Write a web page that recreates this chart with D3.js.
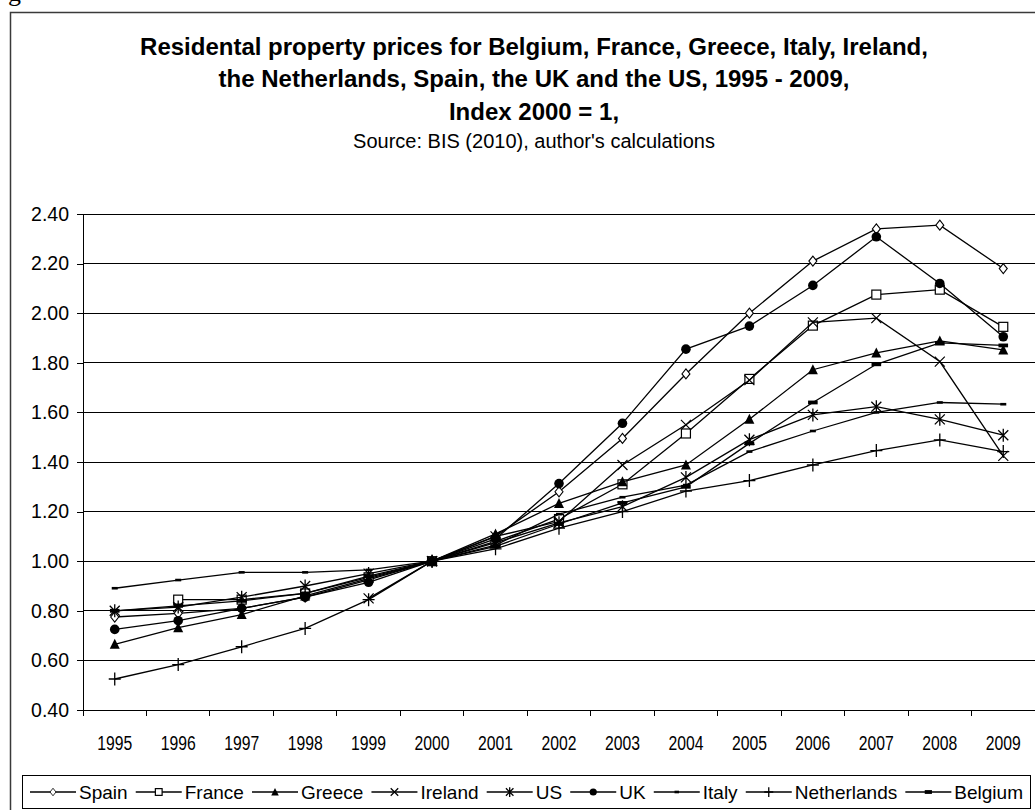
<!DOCTYPE html>
<html>
<head>
<meta charset="utf-8">
<title>Residental property prices</title>
<script src="https://cdn.jsdelivr.net/npm/d3@7/dist/d3.min.js" charset="utf-8"></script>
<style type="text/css">
	body { margin: 0; background: #fff; }
	svg { display: block; font-family: "Liberation Sans", Arial, sans-serif; }
	.grid line { stroke: #000; stroke-width: 1px; shape-rendering: crispEdges; }
	.axis path, .axis line { stroke: #000; shape-rendering: crispEdges; }
	.series { fill: none; stroke: #000; stroke-width: 1.3px; }
</style>
</head>
<body>
<script type="text/javascript">

var width = 1035,
    height = 810;

// data (index 2000 = 1)
var years = ["1995","1996","1997","1998","1999","2000","2001","2002","2003","2004","2005","2006","2007","2008","2009"];
var names = ["Spain","France","Greece","Ireland","US","UK","Italy","Netherlands","Belgium"];
var spain       = [0.775, 0.79, 0.81, 0.855, 0.925, 1.00, 1.10, 1.28, 1.495, 1.755, 2.00, 2.21, 2.34, 2.355, 2.18];
var france      = [null, 0.845, 0.845, 0.87, 0.935, 1.00, 1.08, 1.17, 1.31, 1.515, 1.735, 1.95, 2.075, 2.095, 1.945];
var greece      = [0.665, 0.732, 0.785, 0.86, 0.93, 1.00, 1.11, 1.233, 1.32, 1.388, 1.572, 1.772, 1.84, 1.888, 1.852];
var ireland     = [null, null, null, null, 0.85, 1.00, 1.10, 1.16, 1.388, 1.55, 1.73, 1.963, 1.98, 1.805, 1.425];
var us          = [0.80, 0.815, 0.855, 0.90, 0.95, 1.00, 1.075, 1.155, 1.22, 1.338, 1.49, 1.59, 1.623, 1.572, 1.508];
var uk          = [0.725, 0.76, 0.81, 0.855, 0.915, 1.00, 1.09, 1.313, 1.556, 1.855, 1.948, 2.112, 2.308, 2.12, 1.905];
var italy       = [0.891, 0.924, 0.955, 0.955, 0.965, 1.00, 1.065, 1.19, 1.258, 1.307, 1.442, 1.525, 1.60, 1.64, 1.633];
var netherlands = [0.525, 0.583, 0.655, 0.729, 0.845, 1.00, 1.05, 1.133, 1.20, 1.283, 1.325, 1.388, 1.446, 1.489, 1.442];
var belgium     = [0.80, 0.82, 0.84, 0.87, 0.94, 1.00, 1.06, 1.15, 1.235, 1.30, 1.475, 1.64, 1.794, 1.88, 1.87];
var markers = ["diamond","square","triangle","x","star","circle","dashSmall","plus","dashBig"];
var yTicks = [0.4, 0.6, 0.8, 1.0, 1.2, 1.4, 1.6, 1.8, 2.0, 2.2, 2.4];

var allValues = [spain, france, greece, ireland, us, uk, italy, netherlands, belgium];
var series = names.map(function(n, i) {
	return { name: n, marker: markers[i], values: allValues[i] };
});

var titleLines = [
	"Residental property prices for Belgium, France, Greece, Italy, Ireland,",
	"the Netherlands, Spain, the UK and the US, 1995 - 2009,",
	"Index 2000 = 1,"
];
var subtitle = "Source: BIS (2010), author's calculations";

var svg = d3.select("body").append("svg").attr("width", width).attr("height", height);

// bit of the caption above the frame, cut off by the page edge
svg.append("text").attr("x", 8).attr("y", 1)
	.style("font-family", "'Liberation Serif', 'Times New Roman', serif")
	.style("font-size", "26px").text("g");

// outer chart frame (runs past the right and bottom edge)
svg.append("rect").attr("x", 10.5).attr("y", 12.5).attr("width", 1100).attr("height", 900)
	.attr("fill", "none").attr("stroke", "#3a3a3a").attr("stroke-width", 1.5);

svg.selectAll("text.title").data(titleLines).enter()
	.append("text").attr("class", "title")
	.attr("x", 534).attr("y", function(d, i) { return 55 + i * 32.3; })
	.attr("text-anchor", "middle")
	.style("font-weight", "bold").style("font-size", "24px")
	.text(function(d) { return d; });
svg.append("text").attr("x", 534).attr("y", 148).attr("text-anchor", "middle")
	.style("font-size", "20px").text(subtitle);

var x = d3.scaleBand().domain(years).range([83, 1035]);
var y = d3.scaleLinear().domain([0.4, 2.4]).range([710, 214]);
var cx = function(yr) { return x(yr) + x.bandwidth() / 2; };

svg.append("g").attr("class", "grid").selectAll("line")
	.data(yTicks.slice(1)).enter().append("line")
	.attr("x1", 83).attr("x2", 1035)
	.attr("y1", function(d) { return y(d); }).attr("y2", function(d) { return y(d); });

var yAxis = svg.append("g").attr("class", "axis").attr("transform", "translate(83,0)")
	.call(d3.axisLeft(y).tickValues(yTicks).tickFormat(d3.format(".2f")).tickSize(6).tickPadding(8).tickSizeOuter(0));
yAxis.selectAll("text").style("font-size", "19.5px").attr("fill", "#000");

var xAxis = svg.append("g").attr("class", "axis").attr("transform", "translate(0,710)")
	.call(d3.axisBottom(x).tickSize(0).tickSizeOuter(0).tickPadding(0));
xAxis.selectAll(".tick text").attr("y", 40).attr("dy", 0)
	.style("font-size", "19.5px").attr("fill", "#000")
	.attr("textLength", 35).attr("lengthAdjust", "spacingAndGlyphs");
// category boundary ticks
xAxis.selectAll("line.bound").data(years).enter().append("line").attr("class", "bound")
	.attr("x1", function(d) { return x(d); }).attr("x2", function(d) { return x(d); })
	.attr("y1", 0).attr("y2", 6).attr("stroke", "#000").style("shape-rendering", "crispEdges");

function drawMarker(g, type, s) {
	var k = s || 1;
	if (type === "diamond") {
		g.append("path").attr("d", "M0,-5L4,0L0,5L-4,0Z").attr("transform", "scale(" + k + ")")
			.attr("fill", "#fff").attr("stroke", "#000").attr("stroke-width", 1.1);
	} else if (type === "square") {
		g.append("rect").attr("x", -4.5 * k).attr("y", -4.5 * k).attr("width", 9 * k).attr("height", 9 * k)
			.attr("fill", "#fff").attr("stroke", "#000").attr("stroke-width", 1.2);
	} else if (type === "triangle") {
		g.append("path").attr("d", "M0,-5.5L5,4.5L-5,4.5Z").attr("transform", "scale(" + k + ")").attr("fill", "#000");
	} else if (type === "x") {
		g.append("path").attr("d", "M-5,-5L5,5M-5,5L5,-5").attr("transform", "scale(" + k + ")")
			.attr("stroke", "#000").attr("stroke-width", 1.2 / k);
	} else if (type === "star") {
		g.append("path").attr("d", "M-5,-5L5,5M-5,5L5,-5M0,-6.5V6.5").attr("transform", "scale(" + k + ")")
			.attr("stroke", "#000").attr("stroke-width", 1.3 / k);
	} else if (type === "circle") {
		g.append("circle").attr("r", 4.8 * k).attr("fill", "#000");
	} else if (type === "dashSmall") {
		g.append("rect").attr("x", -3 * k).attr("y", -1.3).attr("width", 6 * k).attr("height", 2.6).attr("fill", "#000");
	} else if (type === "dashBig") {
		g.append("rect").attr("x", -4.8 * k).attr("y", -1.9).attr("width", 9.6 * k).attr("height", 3.8).attr("fill", "#000");
	} else if (type === "plus") {
		g.append("path").attr("d", "M-6,0H6M0,-6.5V6.5").attr("transform", "scale(" + k + ")")
			.attr("stroke", "#000").attr("stroke-width", 1.3 / k);
	}
}

var line = d3.line()
	.defined(function(d) { return d != null; })
	.x(function(d, i) { return cx(years[i]); })
	.y(function(d) { return y(d); });

series.forEach(function(s) {
	var g = svg.append("g");
	g.append("path").attr("class", "series").attr("d", line(s.values));
	s.values.forEach(function(v, i) {
		if (v == null) return;
		var m = g.append("g").attr("transform", "translate(" + cx(years[i]) + "," + y(v) + ")");
		drawMarker(m, s.marker);
	});
});

// legend
var legend = svg.append("g");
legend.append("rect").attr("x", 22.5).attr("y", 775.5).attr("width", 1008).attr("height", 33)
	.attr("fill", "#fff").attr("stroke", "#000").attr("stroke-width", 1);
var lx = 30, ly = 792;
var items = [];
series.forEach(function(s) {
	var it = legend.append("g");
	it.append("line").attr("x1", 0).attr("x2", 46).attr("y1", 0).attr("y2", 0)
		.attr("stroke", "#000").attr("stroke-width", 1.3);
	var m = it.append("g").attr("transform", "translate(23,0)");
	drawMarker(m, s.marker, 0.75);
	var t = it.append("text").attr("x", 49).attr("y", 6.5).style("font-size", "19px").text(s.name);
	items.push({ g: it, w: 49 + t.node().getComputedTextLength() });
});
var total = d3.sum(items, function(d) { return d.w; });
var gap = (1023 - lx - total) / (items.length - 1);
items.forEach(function(d) {
	d.g.attr("transform", "translate(" + lx + "," + ly + ")");
	lx += d.w + gap;
});

</script>
</body>
</html>
